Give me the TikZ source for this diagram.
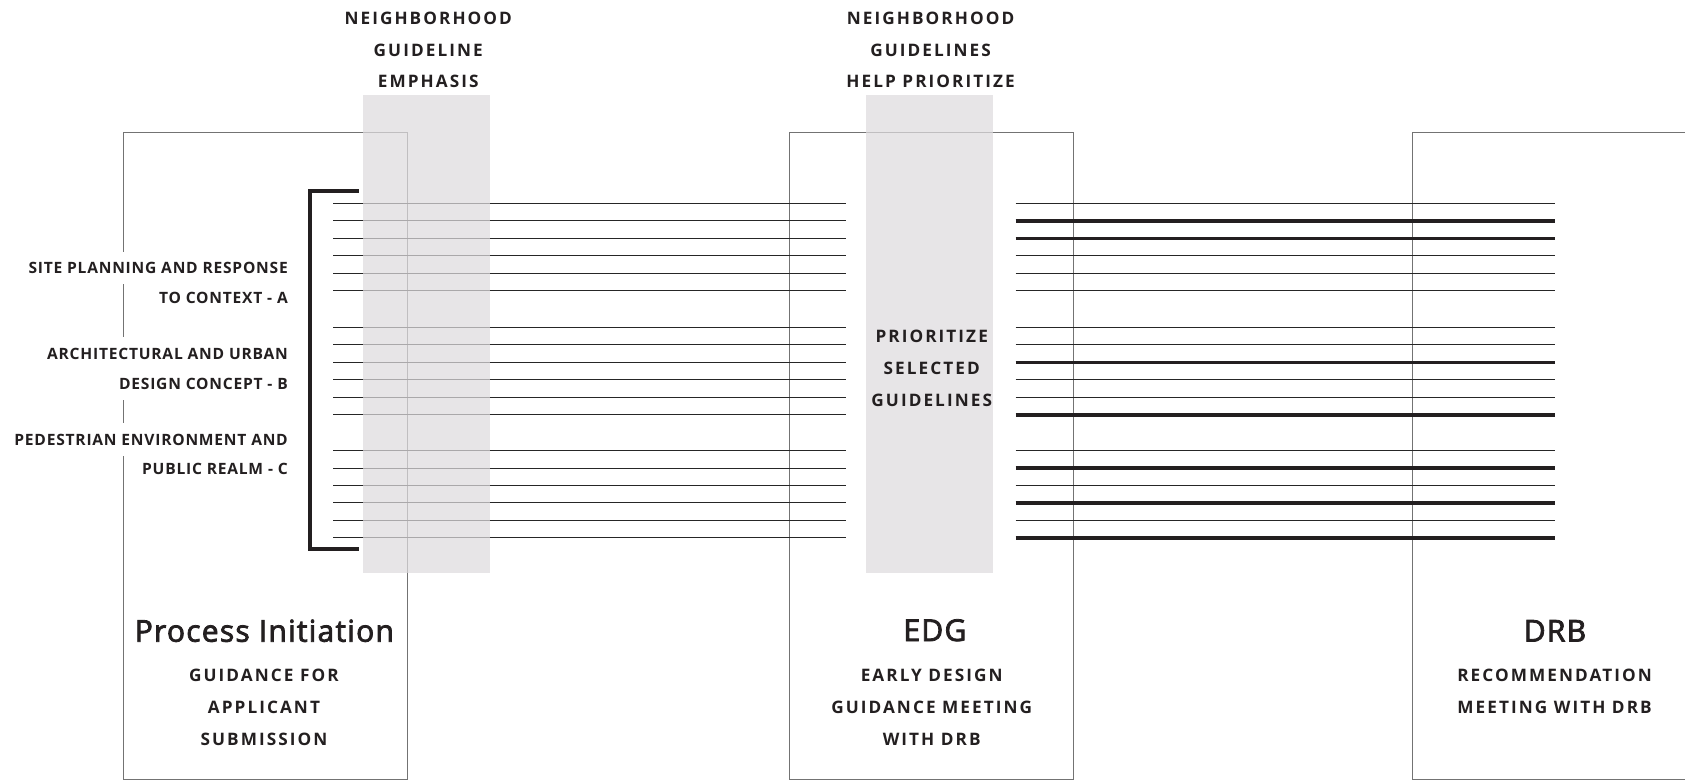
\documentclass[tikz,border=0pt]{standalone}
\usepackage{fontspec}
\setmainfont{Open Sans}
\newfontfamily\capfont[LetterSpace=12]{Open Sans}
\newfontfamily\lblfont[LetterSpace=5]{Open Sans}
\newfontfamily\ttlfont[LetterSpace=4,FakeBold=2.6]{Open Sans}
\definecolor{ink}{HTML}{231F20}
\definecolor{bandgray}{RGB}{222,219,222}
\begin{document}
\begin{tikzpicture}[x=1pt,y=-1pt,
  hd/.style={font=\capfont\bfseries\fontsize{16}{16}\selectfont, text=ink, inner sep=0pt},
  lbl/.style={font=\lblfont\bfseries\fontsize{14.5}{14.5}\selectfont, text=ink, anchor=east, fill=white, inner xsep=2pt, inner ysep=0pt, minimum height=30},
  ttl/.style={font=\ttlfont\fontsize{28}{28}\selectfont, text=ink, inner sep=0pt},
  boxline/.style={draw=black!55, line width=1},
  thinline/.style={draw=black!85, line width=0.9},
  thickline/.style={draw=ink, line width=3.2},
  bandfill/.style={fill=bandgray, fill opacity=0.72},
  bracketline/.style={draw=ink, line width=4, line cap=butt, line join=miter}
  ]
\useasboundingbox (0,0) rectangle (1568,726);
% boxes
\draw[boxline] (115,123) rectangle (379,725.5);
\draw[boxline] (735,123) rectangle (999,725.5);
\draw[boxline] (1568,123) -- (1314,123) -- (1314,725.5) -- (1568,725.5);
% left guideline lines
\foreach \y in {189.2,205.5,221.8,238.0,254.3,270.6,304.6,320.9,337.1,353.4,369.7,386.0,419.2,435.5,451.7,468.0,484.3,500.6}
  \draw[thinline] (310,\y) -- (787,\y);
% right guideline lines
\foreach \y/\s in {189.2/thinline,205.5/thickline,221.8/thickline,238.0/thinline,254.3/thinline,270.6/thinline,
  304.6/thinline,320.9/thinline,337.1/thickline,353.4/thinline,369.7/thinline,386.0/thickline,
  419.2/thinline,435.5/thickline,451.7/thinline,468.0/thickline,484.3/thinline,500.6/thickline}
  \draw[\s] (945,\y) -- (1447,\y);
% bracket
\draw[bracketline] (334,177.5) -- (288.5,177.5) -- (288.5,511) -- (334,511);
% bands
\fill[bandfill] (338,88) rectangle (456,533);
\fill[bandfill] (806,88) rectangle (924,533);
% headings
\node[hd] (h1a) at (398.5,17) {NEIGHBORHOOD};
\node[hd] (h1b) at (398.5,46.5) {GUIDELINE};
\node[hd] (h1c) at (398.5,76) {EMPHASIS};
\node[hd] (h2a) at (866,17) {NEIGHBORHOOD};
\node[hd] (h2b) at (866,46.5) {GUIDELINES};
\node[hd] (h2c) at (866,76) {HELP PRIORITIZE};
% band text
\node[hd] (p1) at (867,313.3) {PRIORITIZE};
\node[hd] (p2) at (867,343) {SELECTED};
\node[hd] (p3) at (867,373) {GUIDELINES};
% labels
\node[lbl] (la1) at (270,249.5) {SITE PLANNING AND RESPONSE};
\node[lbl] (la2) at (270,277) {TO CONTEXT - A};
\node[lbl] (lb1) at (270,329) {ARCHITECTURAL AND URBAN};
\node[lbl] (lb2) at (270,357) {DESIGN CONCEPT - B};
\node[lbl] (lc1) at (270,409) {PEDESTRIAN ENVIRONMENT AND};
\node[lbl] (lc2) at (270,436) {PUBLIC REALM - C};
% titles
\node[ttl] (t1) at (246,587) {Process Initiation};
\node[ttl] (t2) at (870,586.5) {EDG};
\node[ttl] (t3) at (1447,587) {DRB};
% subtitles
\node[hd] (s1a) at (245.6,628) {GUIDANCE FOR};
\node[hd] (s1b) at (245.6,658) {APPLICANT};
\node[hd] (s1c) at (245.6,688) {SUBMISSION};
\node[hd] (s2a) at (867,628) {EARLY DESIGN};
\node[hd] (s2b) at (867,658) {GUIDANCE MEETING};
\node[hd] (s2c) at (867,688) {WITH DRB};
\node[hd] (s3a) at (1446.6,628) {RECOMMENDATION};
\node[hd] (s3b) at (1446.6,658) {MEETING WITH DRB};
\end{tikzpicture}
\end{document}
